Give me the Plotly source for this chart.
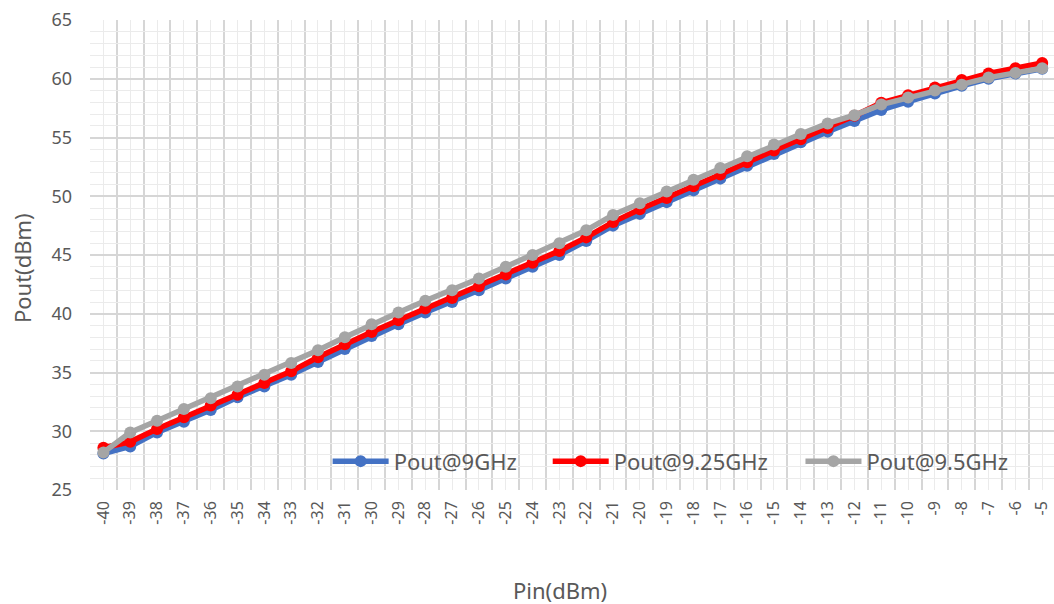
import plotly.graph_objects as go

pin = list(range(-40, -4))
pin_labels = [str(v) for v in pin]

pout_9ghz = [28.1, 28.7, 29.9, 30.8, 31.8, 32.9, 33.8, 34.8, 35.9, 37.0,
             38.1, 39.1, 40.1, 41.0, 42.0, 43.0, 44.0, 45.0, 46.2, 47.5,
             48.5, 49.5, 50.5, 51.5, 52.6, 53.6, 54.6, 55.5, 56.4, 57.35,
             58.05, 58.75, 59.4, 60.0, 60.45, 60.85]
pout_925ghz = [28.6, 29.1, 30.2, 31.2, 32.2, 33.1, 34.1, 35.1, 36.3, 37.4,
               38.45, 39.45, 40.45, 41.35, 42.35, 43.35, 44.35, 45.35, 46.5, 47.8,
               48.9, 49.85, 50.85, 51.85, 52.9, 53.9, 54.85, 55.8, 56.85, 57.95,
               58.6, 59.25, 59.9, 60.45, 60.9, 61.35]
pout_95ghz = [28.2, 29.9, 30.9, 31.9, 32.8, 33.8, 34.8, 35.8, 36.9, 38.0,
              39.1, 40.1, 41.1, 42.0, 43.0, 44.0, 45.0, 46.0, 47.1, 48.4,
              49.4, 50.4, 51.4, 52.4, 53.4, 54.4, 55.3, 56.2, 56.9, 57.8,
              58.4, 59.0, 59.5, 60.1, 60.5, 60.9]

x_title = "Pin(dBm)"
y_title = "Pout(dBm)"

series = [
    ("Pout@9GHz", pout_9ghz, "#4472C4", "legend", 0.2465),
    ("Pout@9.25GHz", pout_925ghz, "#FF0000", "legend2", 0.4748),
    ("Pout@9.5GHz", pout_95ghz, "#A5A5A5", "legend3", 0.737),
]

FONT = "Noto Sans"
TXT = "#595959"

fig = go.Figure()
legend_layout = {}
for name, vals, color, leg, lx in series:
    fig.add_trace(go.Scatter(
        x=pin, y=vals, name=name, mode="lines+markers",
        line=dict(color=color, width=5.5),
        marker=dict(color=color, size=12),
        cliponaxis=False, legend=leg,
    ))
    legend_layout[leg] = dict(
        orientation="h", x=lx, xanchor="left", y=0.061, yanchor="middle",
        bgcolor="rgba(0,0,0,0)", font=dict(size=22, color=TXT, family=FONT),
        itemwidth=56,
    )

fig.update_layout(
    width=1054, height=604,
    margin=dict(l=90, r=0, t=20, b=114),
    paper_bgcolor="white", plot_bgcolor="white",
    font=dict(family=FONT, color=TXT),
    showlegend=True,
    annotations=[
        dict(text=x_title, xref="paper", yref="paper", x=0.4876, y=-0.2128,
             xanchor="center", yanchor="middle", showarrow=False,
             font=dict(size=22, color=TXT, family=FONT)),
        dict(text=y_title, xref="paper", yref="paper", x=-0.0705, y=0.4723,
             xanchor="center", yanchor="middle", showarrow=False, textangle=-90,
             font=dict(size=22, color=TXT, family=FONT)),
    ],
    **legend_layout,
)

fig.update_xaxes(
    type="linear",
    range=[-40.5, -4.56],
    tickmode="array", tickvals=pin, ticktext=pin_labels,
    tickangle=-90, tickfont=dict(size=16, color=TXT),
    ticklabelstandoff=7, ticklabeloverflow="allow",
    showgrid=True, gridcolor="#EBEBEB", gridwidth=1,
    minor=dict(tickmode="array", tickvals=[v - 0.5 for v in pin] + [pin[-1] + 0.5],
               showgrid=True, gridcolor="#D6D6D6", gridwidth=2, ticks=""),
    zeroline=False, showline=False, ticks="",
    automargin=False,
)
fig.update_yaxes(
    range=[25, 65], dtick=5, tick0=25,
    tickfont=dict(size=18, color=TXT),
    ticklabelstandoff=17,
    showgrid=True, gridcolor="#D6D6D6", gridwidth=2,
    minor=dict(dtick=1, showgrid=True, gridcolor="#EBEBEB", gridwidth=1, ticks=""),
    zeroline=False, showline=False, ticks="",
    automargin=False,
)

fig.write_html("out.html", config={"displayModeBar": False},
               post_script="document.body.style.margin='0';")
